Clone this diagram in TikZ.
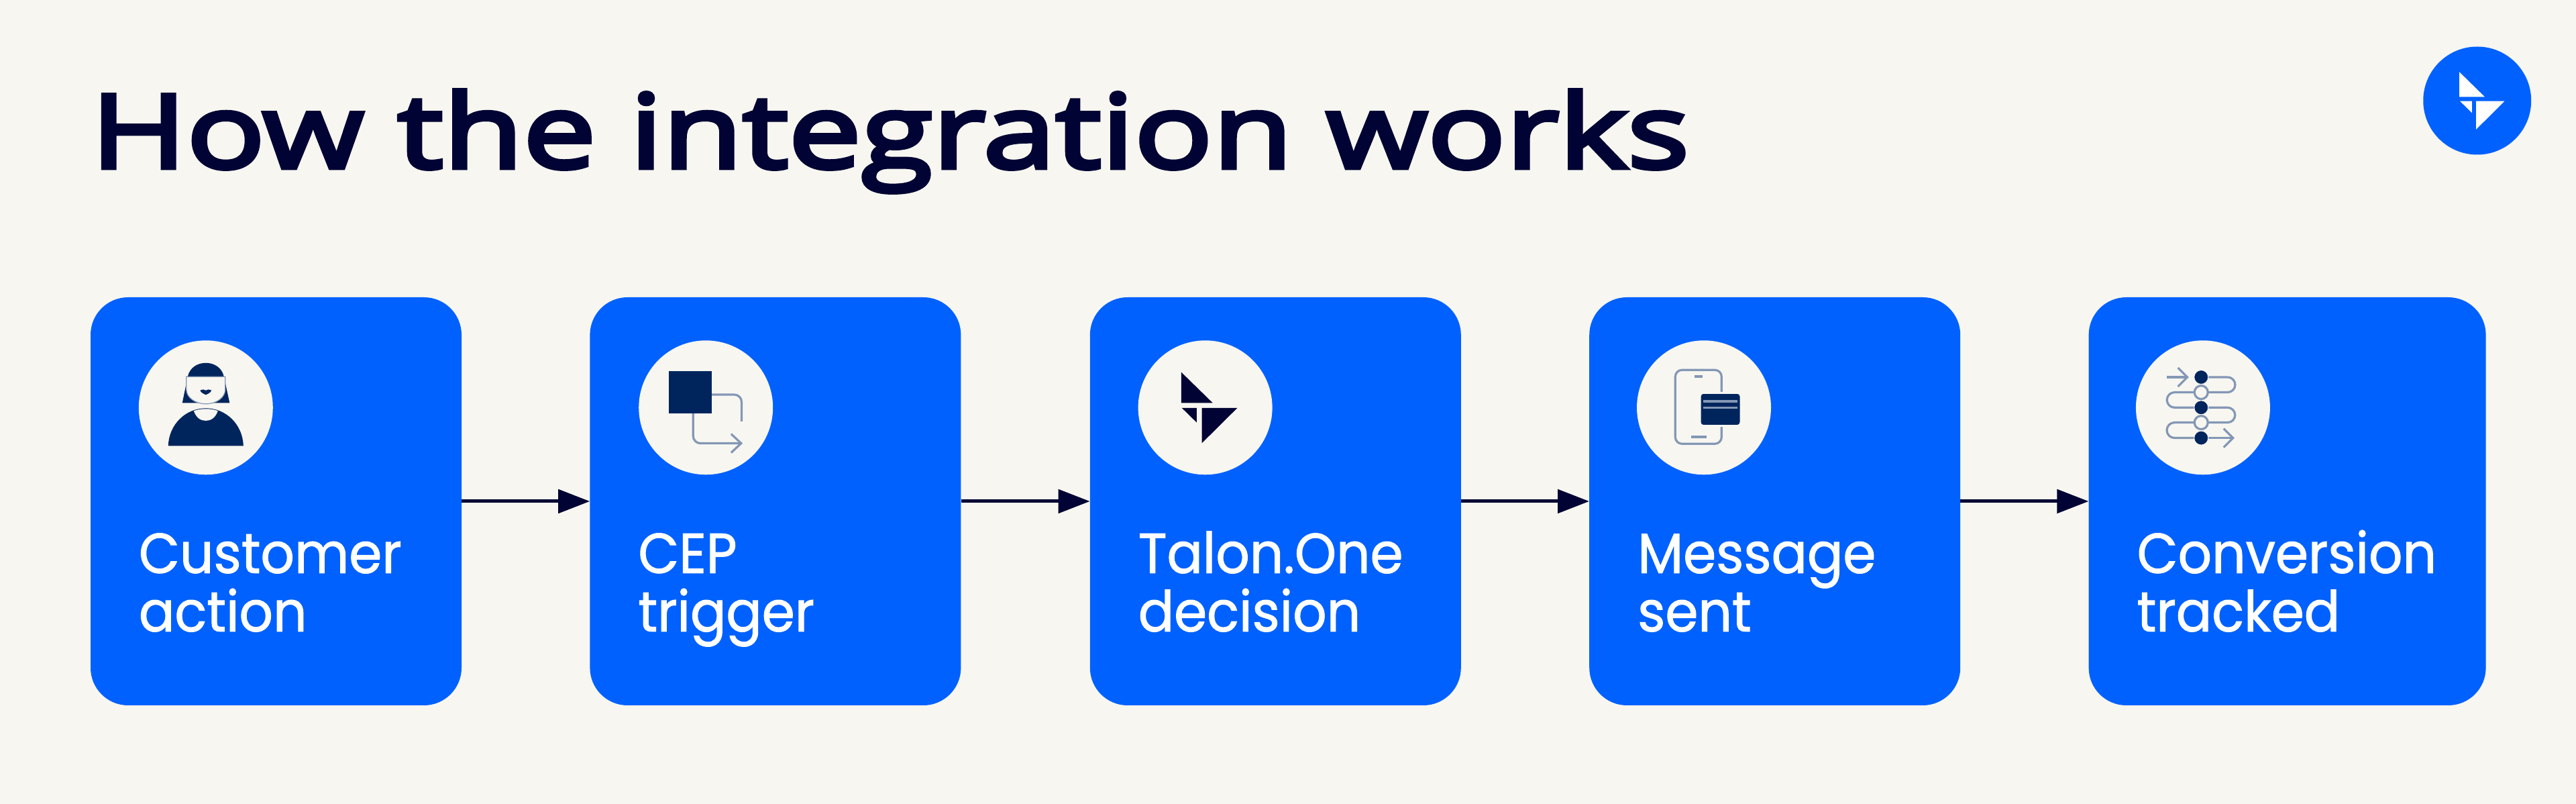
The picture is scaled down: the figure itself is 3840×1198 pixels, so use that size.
\documentclass[tikz,border=0pt]{standalone}
\usepackage{fontspec}
\usepackage{tikz}
\usetikzlibrary{positioning, arrows.meta, calc}
\newfontfamily\titlefont[FakeStretch=1.275, FakeBold=4.5]{Open Sans}
\newfontfamily\labelfont[FakeStretch=0.94, FakeBold=1.2]{Poppins}
\definecolor{pagebg}{HTML}{F7F6F0}
\definecolor{brandblue}{HTML}{0061FF}
\definecolor{inkdark}{HTML}{000333}
\definecolor{icondark}{HTML}{00255C}
\definecolor{icongray}{HTML}{8497B5}
\tikzstyle{stepbox}=[%
      rectangle, fill=brandblue, rounded corners=56pt, minimum width=553pt, minimum height=608pt, inner sep=0pt
]
\tikzstyle{iconcirc}=[%
      circle, fill=pagebg, minimum size=200pt, inner sep=0pt
]
\tikzstyle{steptext}=[%
      anchor=base west, inner sep=0pt, align=left, text=white,
      font=\labelfont\fontsize{84}{87}\selectfont
]
\tikzstyle{flowarrow}=[%
      draw=inkdark, line width=5pt, -{Triangle[length=47pt,width=35pt]}
]
\tikzstyle{iconline}=[%
      draw=icongray, line width=3.2pt
]
\tikzset{
  logomark/.pic={
    \fill[pic actions] (-35.7,52.7) -- (-35.7,7) -- (11,7) -- cycle;
    \fill[pic actions] (-34.7,-0.7) -- (-12.7,-0.7) -- (-12.7,-22.3) -- cycle;
    \fill[pic actions] (-5,-0.7) -- (47.7,-0.7) -- (-5,-53) -- cycle;
  },
  personicon/.pic={
    % hair, face, lips
    \fill[icondark] (-35,7) -- (-27,46) .. controls (-24,60) and (-12,66.5) .. (0,66.5)
       .. controls (12,66.5) and (24,60) .. (27,46) -- (35.5,7) -- cycle;
    \filldraw[fill=pagebg, draw=icongray, line width=1.2pt] (-29,46) -- (-29,27) arc[x radius=29, y radius=21.5, start angle=180, end angle=360] -- (29,46) -- cycle;
    \fill[icondark] (0,19) .. controls (-5,21) and (-9,24) .. (-8,26) .. controls (-5,27.5) and (-2,27) .. (0,25.5)
       .. controls (2,27) and (5,27.5) .. (8,26) .. controls (9,24) and (5,21) .. (0,19) -- cycle;
    % body and neck
    \fill[icondark] (-56,-57) .. controls (-55,-25) and (-30,-1) .. (0,-1) .. controls (30,-1) and (55,-25) .. (56,-57) -- cycle;
    \fill[pagebg] (-18,-5) .. controls (-14,-16) and (-7,-19.6) .. (0,-19.6) .. controls (7,-19.6) and (14,-16) .. (18,-5) .. controls (8,-1) and (-8,-1) .. (-18,-5) -- cycle;
  },
  triggericon/.pic={
    \draw[iconline, rounded corners=11pt] (8.3,19.3) -- (53.3,19.3) -- (53.3,-20.7);
    \draw[iconline, rounded corners=11pt, -{Straight Barb[length=15pt,width=28pt]}] (-19,-8.3) -- (-19,-53.3) -- (55,-53.3);
    \fill[icondark] (-55,54.3) rectangle (8.3,-8.3);
  },
  phoneicon/.pic={
    \draw[iconline, rounded corners=10pt] (-42.7,56) rectangle (26.3,-54);
    \draw[iconline, line width=3.6pt] (-14.3,46) -- (-2,46);
    \draw[iconline, line width=3.6pt] (-19.3,-44) -- (4,-44);
    \filldraw[fill=icondark, draw=pagebg, line width=3pt, rounded corners=5pt] (-6,22) rectangle (55,-27.3);
    \draw[iconline] (-0.7,9.3) -- (49.7,9.3);
    \draw[iconline] (-0.7,-0.3) -- (49.7,-0.3);
  },
  tracksicon/.pic={
    \draw[iconline, -{Straight Barb[length=14pt,width=28pt]}] (-53.7,45.3) -- (-21,45.3);
    \draw[iconline] (-2.7,45.3) -- (36.7,45.3) arc[radius=11.3, start angle=90, end angle=-90]
       -- (-42.4,22.7) arc[radius=11.35, start angle=90, end angle=270]
       -- (36.7,0) arc[radius=11.15, start angle=90, end angle=-90]
       -- (-42.4,-22.3) arc[radius=11.5, start angle=90, end angle=270] -- (-2.7,-45.3);
    \draw[iconline, -{Straight Barb[length=14pt,width=28pt]}] (-2.7,-45.3) -- (47,-45.3);
    \filldraw[fill=icondark, draw=pagebg, line width=1pt] (-2.7,45.3) circle (10.5);
    \filldraw[fill=pagebg, iconline] (-2.7,22.7) circle (10);
    \filldraw[fill=icondark, draw=pagebg, line width=1pt] (-2.7,0) circle (10.5);
    \filldraw[fill=pagebg, iconline] (-2.7,-22.3) circle (10);
    \filldraw[fill=icondark, draw=pagebg, line width=1pt] (-2.7,-45.3) circle (10.5);
  }
}
\begin{document}
\begin{tikzpicture}[x=1pt, y=1pt]
    \fill[pagebg] (0,0) rectangle (3840,1198);
    \useasboundingbox (0,0) rectangle (3840,1198);

    \node[anchor=base west, inner sep=0pt, text=inkdark, font=\titlefont\fontsize{152}{152}\selectfont] (title) at (135,948) {How the integration works};
    \node[circle, fill=brandblue, minimum size=161pt, inner sep=0pt] (badge) at (3692.7,1048) {};
    \pic[fill=white, scale=.81] at ($(badge)+(2.3,0)$) {logomark};

    \node[stepbox] (box1) at (411.5,451) {};
    \node[stepbox] (box2) [right = 191pt of box1] {};
    \node[stepbox] (box3) [right = 192pt of box2] {};
    \node[stepbox] (box4) [right = 191pt of box3] {};
    \node[stepbox, minimum width=592pt] (box5) [right = 191pt of box4] {};

    \node[iconcirc] (icon1) at ($(box1.north west)+(172,-164.5)$) {};
    \node[iconcirc] (icon2) at ($(box2.north west)+(173,-164.5)$) {};
    \node[iconcirc] (icon3) at ($(box3.north west)+(172,-164.5)$) {};
    \node[iconcirc] (icon4) at ($(box4.north west)+(171,-164.5)$) {};
    \node[iconcirc] (icon5) at ($(box5.north west)+(170.5,-164.5)$) {};

    \pic at (icon1) {personicon};
    \pic at (icon2) {triggericon};
    \pic[fill=inkdark] at (icon3) {logomark};
    \pic at (icon4) {phoneicon};
    \pic at (icon5) {tracksicon};

    \node[steptext] (text1) at ($(box1.north west)+(72,-498)$) {Customer\\action};
    \node[steptext] (text2) at ($(box2.north west)+(72,-498)$) {CEP\\trigger};
    \node[steptext] (text3) at ($(box3.north west)+(72,-498)$) {Talon.One\\decision};
    \node[steptext] (text4) at ($(box4.north west)+(72,-498)$) {Message\\sent};
    \node[steptext] (text5) at ($(box5.north west)+(72,-498)$) {Conversion\\tracked};

    \draw[flowarrow] (box1) -- (box2);
    \draw[flowarrow] (box2) -- (box3);
    \draw[flowarrow] (box3) -- (box4);
    \draw[flowarrow] (box4) -- (box5);
\end{tikzpicture}
\end{document}
